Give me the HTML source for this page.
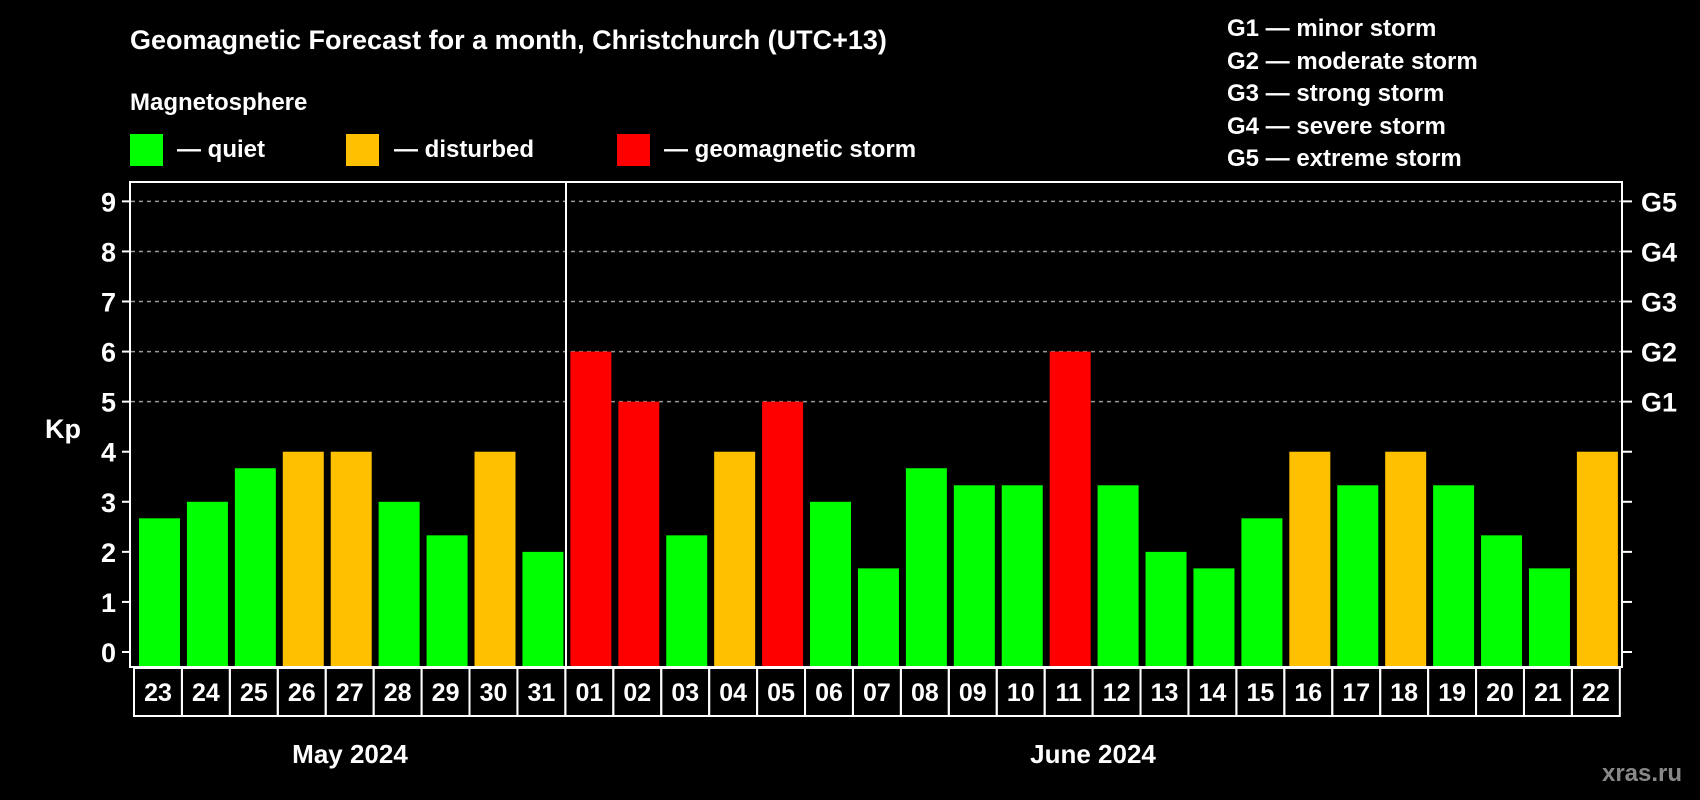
<!DOCTYPE html>
<html><head><meta charset="utf-8"><style>
html,body{margin:0;padding:0;background:#000;}
svg{display:block;font-family:"Liberation Sans",Arial,sans-serif;font-weight:bold;}
</style></head><body>
<svg id="chart" width="1700" height="800" viewBox="0 0 1700 800">
<rect x="0" y="0" width="1700" height="800" fill="#000"/>
<text x="130" y="49" fill="#fff" font-size="27">Geomagnetic Forecast for a month, Christchurch (UTC+13)</text>
<text x="130" y="110" fill="#fff" font-size="24">Magnetosphere</text>
<g><rect x="130" y="134" width="33" height="32" fill="#00ff00"/><text x="177" y="157" fill="#fff" font-size="24">— quiet</text></g>
<g><rect x="346" y="134" width="33" height="32" fill="#ffc000"/><text x="394" y="157" fill="#fff" font-size="24">— disturbed</text></g>
<g><rect x="617" y="134" width="33" height="32" fill="#ff0000"/><text x="664" y="157" fill="#fff" font-size="24">— geomagnetic storm</text></g>
<g fill="#fff" font-size="24">
<text x="1227" y="36">G1 — minor storm</text>
<text x="1227" y="69">G2 — moderate storm</text>
<text x="1227" y="101">G3 — strong storm</text>
<text x="1227" y="134">G4 — severe storm</text>
<text x="1227" y="166">G5 — extreme storm</text>
</g>
<text x="63" y="438" fill="#fff" font-size="27" text-anchor="middle">Kp</text>
<g id="grid"></g>
<g id="bars"></g>
<rect x="130" y="182" width="1492" height="485" fill="none" stroke="#fff" stroke-width="2"/>
<line x1="566" y1="182" x2="566" y2="667" stroke="#fff" stroke-width="2"/>
<g id="ticks"></g>
<g id="xlabels"></g>
<text x="350" y="763" fill="#fff" font-size="26" text-anchor="middle">May 2024</text>
<text x="1093" y="763" fill="#fff" font-size="26" text-anchor="middle">June 2024</text>
<text x="1642" y="781" fill="#888" font-size="24" text-anchor="middle">xras.ru</text>
</svg>
<script>
const days = ["23","24","25","26","27","28","29","30","31","01","02","03","04","05","06","07","08","09","10","11","12","13","14","15","16","17","18","19","20","21","22"];
const kpValues = [2.67,3,3.67,4,4,3,2.33,4,2,6,5,2.33,4,5,3,1.67,3.67,3.33,3.33,6,3.33,2,1.67,2.67,4,3.33,4,3.33,2.33,1.67,4];
const yTicks = [0,1,2,3,4,5,6,7,8,9];
const gLabels = ["G1","G2","G3","G4","G5"];
const gLevels = [5,6,7,8,9];

const NS = "http://www.w3.org/2000/svg";
function y(v){ return 652 - v * 50.07; }
function slotX(i){ return 134 + i * 47.93; }
function mk(tag, attrs, parent){ const e=document.createElementNS(NS,tag); for(const k in attrs) e.setAttribute(k,attrs[k]); parent.appendChild(e); return e; }
function color(v){ return v>=5 ? "#ff0000" : (v>=4 ? "#ffc000" : "#00ff00"); }

const grid=document.getElementById("grid"), bars=document.getElementById("bars"), ticks=document.getElementById("ticks"), xl=document.getElementById("xlabels");
gLevels.forEach(function(v){
  const l=mk("line",{x1:131,x2:1621,y1:y(v),y2:y(v),stroke:"#999","stroke-width":1.5,"stroke-dasharray":"4,4"},grid);
  
  
});
yTicks.forEach(function(v){
  const t=mk("line",{x1:122,x2:130,y1:y(v),y2:y(v),stroke:"#fff","stroke-width":2},ticks);
  
  
  const t2=mk("line",{x1:1622,x2:1632,y1:y(v),y2:y(v),stroke:"#fff","stroke-width":2},ticks);
  
  
  const tx=mk("text",{x:116,y:y(v)+10,fill:"#fff","font-size":27,"text-anchor":"end"},ticks);
  tx.textContent=v;
  
  
});
gLabels.forEach(function(g,i){
  const tx=mk("text",{x:1641,y:y(gLevels[i])+10,fill:"#fff","font-size":27},ticks);
  tx.textContent=g;
  
  
});
kpValues.forEach(function(v,i){
  const r=mk("rect",{x:slotX(i)+5,y:y(v),width:41,height:667-y(v),fill:color(v)},bars);
  
  
});
days.forEach(function(d,i){
  const b=mk("rect",{x:slotX(i),y:668,width:47.93,height:48,fill:"none",stroke:"#fff","stroke-width":2},xl);
  
  
  const tx=mk("text",{x:slotX(i)+24,y:701,fill:"#fff","font-size":25,"text-anchor":"middle"},xl);
  tx.textContent=d;
  
  
});
</script>
</body></html>
